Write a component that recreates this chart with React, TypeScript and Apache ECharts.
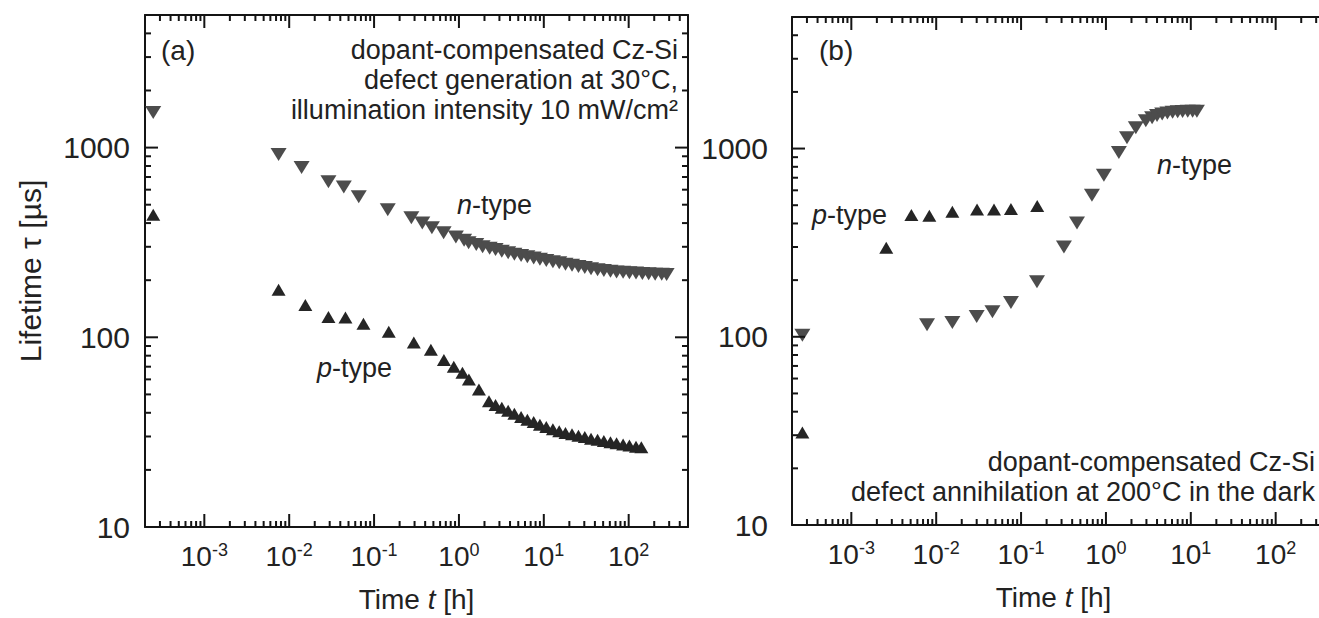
import React, { useEffect, useRef } from "react";
import * as echarts from "echarts";

// ---------- data (time t [h], lifetime tau [µs]) ----------
// Panel (a): defect generation
const nA_t = [2.5e-4, 0.0075, 0.014, 0.029, 0.044, 0.066, 0.145, 0.275, 0.37, 0.48, 0.66, 0.92, 1.15, 1.3, 1.6, 1.9, 2.3, 2.7, 3.2, 3.8, 4.5, 5.4, 6.4, 7.6, 9, 10.7, 12.8, 15.2, 18, 21.5, 25.6, 30.4, 36, 43, 51, 61, 72, 86, 102, 122, 145, 172, 205, 245, 280];
const nA_tau = [1530, 920, 785, 660, 620, 550, 470, 427, 400, 378, 356, 338, 325, 315, 308, 300, 295, 290, 284, 279, 274, 270, 266, 262, 258, 254, 250, 247, 243, 240, 236, 233, 230, 227, 225, 223, 221, 220, 219, 218, 217, 216, 215, 215, 214];
const pA_t = [2.5e-4, 0.0075, 0.0155, 0.029, 0.046, 0.075, 0.149, 0.294, 0.467, 0.665, 0.87, 1.1, 1.31, 1.72, 2.26, 2.7, 3.2, 3.8, 4.5, 5.4, 6.4, 7.6, 9, 10.7, 12.8, 15.2, 18, 21.5, 25.6, 30.4, 36, 43, 51, 61, 72, 86, 102, 122, 141];
const pA_tau = [443, 178, 148, 128, 127, 118, 107, 94, 86, 76, 70, 65, 60, 53, 46, 44, 42.5, 41, 39.5, 38, 36.8, 35.8, 34.6, 33.7, 32.8, 32, 31.3, 30.8, 30.3, 29.8, 29.2, 28.8, 28.4, 28, 27.6, 27.2, 26.9, 26.5, 26.3];

// Panel (b): defect annihilation
const nB_t = [2.65e-4, 0.0078, 0.0155, 0.03, 0.046, 0.076, 0.154, 0.32, 0.456, 0.684, 0.946, 1.42, 1.77, 2.25, 2.95, 3.5, 4.0, 4.6, 5.3, 6.1, 7.0, 8.0, 9.2, 10.5, 11.8];
const nB_tau = [102, 116, 119, 128, 136, 152, 196, 300, 402, 565, 721, 952, 1143, 1290, 1405, 1460, 1500, 1525, 1545, 1560, 1570, 1575, 1580, 1580, 1580];
const pB_t = [2.65e-4, 0.00258, 0.0051, 0.0083, 0.0155, 0.0303, 0.048, 0.076, 0.155];
const pB_tau = [31, 297, 443, 440, 462, 475, 475, 478, 495];

// axes
const X_MIN = 2e-4;
const X_MAX = 500;
const Y_MIN = 10;
const Y_MAX = 5000;
const xTickExponents = [-3, -2, -1, 0, 1, 2];
const yTickLabels = [10, 100, 1000];
const minorMultipliers = [2, 3, 4, 5, 6, 7, 8, 9];
const xDecades = [-4, -3, -2, -1, 0, 1, 2];
const yDecades = [1, 2, 3];

const FONT = "'Liberation Sans', Arial, Helvetica, sans-serif";
const INK = "#222";
const AXIS = "#141414";
const N_COLOR = "#4c4c4c";
const P_COLOR = "#252525";
const MAJOR_LEN = 13;
const MINOR_LEN = 6;

const zip = (a: number[], b: number[]) => a.map((v, i) => [v, b[i]]);

// tick positions (major: powers of ten, minor: 2..9 × 10^n)
const xTicks: number[][] = [];
xDecades.forEach((d) => {
  const p = Math.pow(10, d);
  if (p > X_MIN && p < X_MAX) xTicks.push([p, Y_MIN, MAJOR_LEN]);
  minorMultipliers.forEach((m) => {
    const v = m * p;
    if (v > X_MIN && v < X_MAX) xTicks.push([v, Y_MIN, MINOR_LEN]);
  });
});
const yTicks: number[][] = [];
yDecades.forEach((d) => {
  const p = Math.pow(10, d);
  if (p > Y_MIN && p < Y_MAX) yTicks.push([X_MIN, p, MAJOR_LEN]);
  minorMultipliers.forEach((m) => {
    const v = m * p;
    if (v > Y_MIN && v < Y_MAX) yTicks.push([X_MIN, v, MINOR_LEN]);
  });
});

function xFormatter(v: number) {
  const e = Math.round(Math.log10(v));
  if (Math.abs(Math.log10(v) - e) > 0.01 || xTickExponents.indexOf(e) < 0) return "";
  return `{b|10}{s|${e}}`;
}
function yFormatter(v: number) {
  const match = yTickLabels.find((t) => Math.abs(Math.log10(v) - Math.log10(t)) < 0.01);
  return match ? String(match) : "";
}

function xAxisDef(gridIndex: number, position: "bottom" | "top", labels: boolean, nameShift = 0) {
  return {
    type: "log",
    logBase: 10,
    gridIndex,
    position,
    min: X_MIN,
    max: X_MAX,
    splitNumber: 6,
    axisLine: { show: true, onZero: false, lineStyle: { color: AXIS, width: 2 } },
    axisTick: { show: false },
    splitLine: { show: false },
    axisLabel: labels
      ? {
          show: true,
          margin: 14,
          showMinLabel: false,
          showMaxLabel: false,
          formatter: xFormatter,
          rich: {
            b: { fontSize: 28, fontFamily: FONT, color: INK, lineHeight: 30 },
            s: { fontSize: 18, fontFamily: FONT, color: INK, verticalAlign: "top", lineHeight: 18 },
          },
        }
      : { show: false },
    name: labels ? "{n|Time }{i|t}{n| [h]}" : "",
    nameLocation: "middle",
    nameGap: 58,
    nameTextStyle: {
      padding: [0, nameShift, 0, 0],
      rich: {
        n: { fontSize: 28, fontFamily: FONT, color: INK },
        i: { fontSize: 28, fontFamily: FONT, color: INK, fontStyle: "italic" },
      },
    },
  };
}

function yAxisDef(gridIndex: number, position: "left" | "right", labels: boolean, margin: number, withName: boolean) {
  return {
    type: "log",
    logBase: 10,
    gridIndex,
    position,
    min: Y_MIN,
    max: Y_MAX,
    axisLine: { show: true, onZero: false, lineStyle: { color: AXIS, width: 2 } },
    axisTick: { show: false },
    splitLine: { show: false },
    axisLabel: labels
      ? {
          show: true,
          margin,
          showMaxLabel: false,
          formatter: yFormatter,
          fontSize: 30,
          fontFamily: FONT,
          color: INK,
        }
      : { show: false },
    name: withName ? "Lifetime τ [µs]" : "",
    nameLocation: "middle",
    nameGap: 100,
    nameTextStyle: { fontSize: 30, fontFamily: FONT, color: INK },
  };
}

// inward tick marks on all four sides, drawn through the axes' own scales
function tickSeries(xAxisIndex: number, yAxisIndex: number) {
  const style = { stroke: AXIS, lineWidth: 2 };
  return [
    {
      type: "custom",
      xAxisIndex,
      yAxisIndex,
      silent: true,
      clip: false,
      z: 5,
      encode: { x: 0, y: 1 },
      data: xTicks,
      renderItem: (params: any, api: any) => {
        const v = api.value(0);
        const len = api.value(2);
        const b = api.coord([v, Y_MIN]);
        const t = api.coord([v, Y_MAX]);
        return {
          type: "group",
          children: [
            { type: "line", shape: { x1: b[0], y1: b[1], x2: b[0], y2: b[1] - len }, style },
            { type: "line", shape: { x1: t[0], y1: t[1], x2: t[0], y2: t[1] + len }, style },
          ],
        };
      },
    },
    {
      type: "custom",
      xAxisIndex,
      yAxisIndex,
      silent: true,
      clip: false,
      z: 5,
      encode: { x: 0, y: 1 },
      data: yTicks,
      renderItem: (params: any, api: any) => {
        const v = api.value(1);
        const len = api.value(2);
        const l = api.coord([X_MIN, v]);
        const r = api.coord([X_MAX, v]);
        return {
          type: "group",
          children: [
            { type: "line", shape: { x1: l[0], y1: l[1], x2: l[0] + len, y2: l[1] }, style },
            { type: "line", shape: { x1: r[0], y1: r[1], x2: r[0] - len, y2: r[1] }, style },
          ],
        };
      },
    },
  ];
}

function dataSeries(name: string, xAxisIndex: number, yAxisIndex: number, t: number[], tau: number[], down: boolean) {
  return {
    name,
    type: "scatter",
    xAxisIndex,
    yAxisIndex,
    symbol: "triangle",
    symbolSize: down ? [16, 13] : [14, 12],
    symbolRotate: down ? 180 : 0,
    itemStyle: { color: down ? N_COLOR : P_COLOR, opacity: 1 },
    clip: false,
    z: 3,
    data: zip(t, tau),
  };
}

function typeLabel(letter: string, x: number, y: number) {
  return {
    type: "text",
    x,
    y,
    style: {
      text: `{i|${letter}}{r|-type}`,
      verticalAlign: "middle",
      rich: {
        i: { fontSize: 27, fontFamily: FONT, fill: INK, fontStyle: "italic" },
        r: { fontSize: 27, fontFamily: FONT, fill: INK },
      },
    },
  };
}

function plainText(text: string, x: number, y: number, align: "left" | "right", size = 27) {
  return {
    type: "text",
    x,
    y,
    style: { text, fontSize: size, fontFamily: FONT, fill: INK, align, verticalAlign: "middle" },
  };
}

export default function App() {
  const ref = useRef<HTMLDivElement>(null);

  useEffect(() => {
    if (!ref.current) return;
    const chart = echarts.init(ref.current, undefined, { renderer: "svg" });
    const option: any = {
      animation: false,
      backgroundColor: "#ffffff",
      grid: [
        { left: 145, top: 15, width: 543, height: 512 },
        { left: 792, top: 17, width: 543, height: 508 },
      ],
      xAxis: [
        xAxisDef(0, "bottom", true),
        xAxisDef(0, "top", false),
        xAxisDef(1, "bottom", true, 20),
        xAxisDef(1, "top", false),
      ],
      yAxis: [
        yAxisDef(0, "left", true, 15, true),
        yAxisDef(0, "right", false, 0, false),
        yAxisDef(1, "left", true, 24, false),
        yAxisDef(1, "right", false, 0, false),
      ],
      series: [
        ...tickSeries(0, 0),
        ...tickSeries(2, 2),
        dataSeries("n-type (a)", 0, 0, nA_t, nA_tau, true),
        dataSeries("p-type (a)", 0, 0, pA_t, pA_tau, false),
        dataSeries("n-type (b)", 2, 2, nB_t, nB_tau, true),
        dataSeries("p-type (b)", 2, 2, pB_t, pB_tau, false),
      ],
      graphic: [
        plainText("(a)", 161, 50, "left", 28),
        plainText("dopant-compensated Cz-Si", 678, 50, "right"),
        plainText("defect generation at 30°C,", 678, 80, "right"),
        plainText("illumination intensity 10 mW/cm²", 678, 110, "right"),
        typeLabel("n", 457, 205),
        typeLabel("p", 317, 368),
        plainText("(b)", 819, 50, "left", 28),
        typeLabel("p", 812, 215),
        typeLabel("n", 1157, 165),
        plainText("dopant-compensated Cz-Si", 1315, 462, "right"),
        plainText("defect annihilation at 200°C in the dark", 1315, 492, "right"),
      ],
    };
    chart.setOption(option);
    return () => chart.dispose();
  }, []);

  return (
    <div
      style={{
        position: "fixed",
        left: 0,
        top: 0,
        width: 1319,
        height: 618,
        overflow: "hidden",
        background: "#fff",
      }}
    >
      <div ref={ref} style={{ width: 1345, height: 618 }} />
    </div>
  );
}
